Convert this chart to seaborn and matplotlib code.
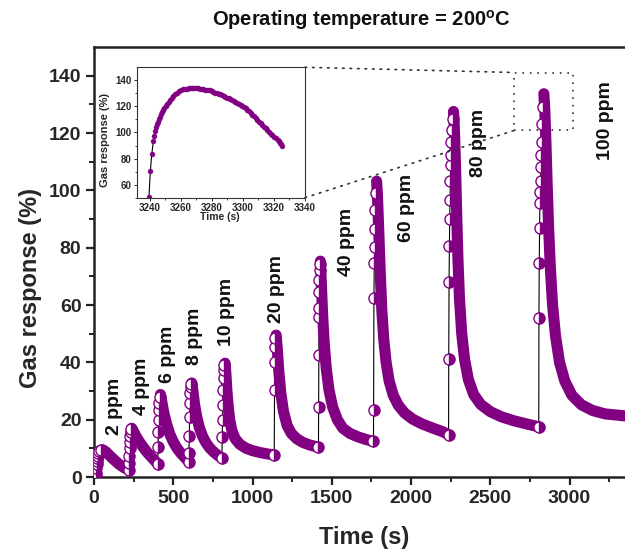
import matplotlib
matplotlib.use("Agg")
import matplotlib.pyplot as plt
import seaborn as sns
import pandas as pd
from matplotlib.patches import Rectangle, ConnectionPatch

# ---------------- data ----------------
CONC_LABELS = ["2 ppm", "4 ppm", "6 ppm", "8 ppm", "10 ppm",
               "20 ppm", "40 ppm", "60 ppm", "80 ppm", "100 ppm"]

# rising part of each pulse (sparse points, time in s / response in %)
RISE_T = [
    [10, 12, 14, 16, 18, 20, 23, 27, 33, 42],
    [219, 221, 223, 225, 227, 229, 231, 234],
    [402, 404, 406, 408, 410, 412, 415],
    [597, 599, 601, 603, 605, 607, 609, 612],
    [807, 809, 811, 813, 815, 817, 820, 823],
    [1137, 1139, 1141, 1143, 1145],
    [1416, 1417, 1418, 1419, 1420, 1421, 1422, 1423, 1425],
    [1763, 1764, 1766, 1768, 1770, 1772, 1775, 1778],
    [2237, 2238, 2240, 2242, 2244, 2246, 2248, 2250, 2252, 2255, 2258, 2262],
    [2806, 2807, 2809, 2811, 2813, 2815, 2817, 2819, 2821, 2824, 2827, 2831],
]
RISE_V = [
    [0.2, 1.5, 3.0, 4.4, 5.6, 6.6, 7.5, 8.3, 8.9, 9.3],
    [2.6, 5.0, 7.5, 10.0, 12.3, 14.2, 15.6, 16.6],
    [4.6, 10.6, 15.6, 19.9, 23.2, 25.8, 27.8],
    [5.4, 8.3, 14.3, 21.0, 25.7, 29.2, 31.3, 32.4],
    [6.6, 14.0, 19.9, 25.1, 30.3, 34.5, 37.5, 39.2],
    [7.7, 30.3, 40.0, 45.5, 48.5],
    [10.4, 24.5, 42.5, 55.9, 58.8, 64.6, 68.6, 72.1, 74.3],
    [12.4, 23.3, 62.5, 74.5, 80.2, 86.4, 93.0, 99.0],
    [14.8, 41.1, 68.0, 80.6, 90.1, 96.8, 103.1, 108.7, 112.5, 117.0, 121.0, 125.0],
    [17.5, 55.3, 74.5, 86.7, 95.7, 99.4, 103.3, 108.2, 112.2, 117.0, 123.0, 129.0],
]
# recovery (decay) part of each pulse, starting at the peak
FALL_T = [
    [55, 75, 95, 115, 135, 155, 175, 195, 218],
    [238, 250, 265, 285, 305, 325, 345, 365, 385, 402],
    [419, 427, 440, 458, 478, 500, 522, 545, 570, 596],
    [617, 624, 634, 648, 665, 685, 708, 732, 758, 782, 806],
    [827, 832, 838, 846, 856, 870, 890, 920, 960, 1000, 1050, 1100, 1136],
    [1149, 1156, 1165, 1178, 1195, 1218, 1245, 1280, 1320, 1365, 1415],
    [1428, 1434, 1442, 1452, 1465, 1482, 1505, 1535, 1570, 1615, 1665, 1715, 1762],
    [1783, 1789, 1797, 1806, 1816, 1828, 1843, 1862, 1888, 1920, 1960, 2010, 2070, 2140, 2200, 2236],
    [2268, 2274, 2281, 2288, 2296, 2306, 2320, 2338, 2362, 2395, 2440, 2500, 2570, 2650, 2730, 2805],
    [2838, 2844, 2851, 2859, 2868, 2879, 2893, 2912, 2937, 2970, 3015, 3075, 3145, 3225, 3300, 3350],
]
FALL_V = [
    [9.5, 8.8, 7.7, 6.6, 5.6, 4.6, 3.8, 3.1, 2.6],
    [17.0, 15.8, 14.2, 12.4, 10.8, 9.3, 8.0, 6.8, 5.6, 4.6],
    [28.8, 26.5, 22.5, 18.5, 15.0, 12.3, 10.2, 8.5, 7.0, 5.4],
    [32.8, 30.0, 25.5, 21.0, 17.2, 14.2, 11.8, 10.0, 8.6, 7.5, 6.6],
    [39.7, 36.0, 30.5, 25.0, 20.0, 16.2, 13.4, 11.4, 10.0, 9.2, 8.5, 8.0, 7.7],
    [49.5, 45.0, 37.5, 29.5, 23.0, 18.0, 15.2, 13.3, 12.0, 11.1, 10.4],
    [75.3, 68.0, 57.0, 47.0, 38.0, 30.5, 24.5, 20.0, 17.0, 15.2, 14.0, 13.1, 12.4],
    [103.2, 97.0, 85.0, 71.0, 58.0, 48.0, 40.0, 33.5, 28.5, 25.0, 22.3, 20.2, 18.5, 17.0, 15.8, 14.8],
    [127.5, 121.0, 108.0, 92.0, 76.0, 62.0, 50.0, 41.0, 34.0, 28.8, 25.3, 22.8, 21.0, 19.6, 18.5, 17.5],
    [133.7, 128.0, 117.0, 102.0, 87.0, 73.0, 60.0, 49.0, 40.0, 33.5, 28.5, 25.2, 23.2, 22.0, 21.6, 21.3],
]

# inset: zoom on the 100 ppm peak
INSET_T = [3239.5, 3240.4, 3241.3, 3242.4, 3243.0, 3243.7, 3244.3, 3245.0, 3245.5,
           3246.0, 3246.5, 3247.1, 3247.9, 3248.7, 3249.5, 3250.4, 3251.2, 3252.1,
           3253.1, 3254.1, 3255.1, 3256.2, 3257.5, 3258.8, 3260.2, 3261.6, 3263.0,
           3264.0, 3265.0, 3266.0, 3267.0, 3268.0, 3269.1, 3270.3, 3271.4, 3272.5,
           3273.5, 3274.6, 3275.8, 3277.0, 3278.0, 3279.0, 3280.0, 3281.0, 3282.2,
           3283.3, 3284.4, 3285.5, 3286.6, 3287.6, 3288.7, 3289.8, 3290.9, 3291.9,
           3293.0, 3294.0, 3295.2, 3296.3, 3297.4, 3298.5, 3299.6, 3300.6, 3301.7,
           3302.8, 3303.9, 3304.9, 3306.0, 3307.0, 3308.2, 3309.3, 3310.4, 3311.5,
           3312.6, 3313.6, 3314.7, 3315.8, 3316.9, 3317.9, 3319.0, 3320.0, 3321.2,
           3322.3, 3323.2, 3324.0, 3324.8, 3325.5]
INSET_V = [50.5, 70.5, 83.6, 93.3, 97.5, 101.3, 104.0, 106.4, 108.4,
           110.3, 112.1, 113.8, 115.5, 117.2, 118.8, 120.3, 122.0, 123.6,
           125.2, 126.7, 128.1, 129.5, 130.5, 131.5, 132.4, 133.1, 133.5,
           133.7, 133.9, 134.1, 134.2, 134.2, 134.2, 134.1, 133.9, 133.7,
           133.4, 133.1, 132.9, 132.7, 132.5, 132.3, 131.8, 131.2, 130.6,
           130.0, 129.6, 129.2, 128.7, 128.2, 127.5, 126.8, 126.1, 125.4,
           124.8, 124.2, 123.5, 122.8, 122.0, 121.3, 120.5, 119.7, 118.5,
           117.3, 116.1, 114.9, 113.6, 112.3, 111.0, 109.7, 108.4, 107.0,
           105.7, 104.4, 103.1, 101.8, 100.5, 99.2, 97.9, 96.6, 95.4,
           94.1, 93.2, 92.0, 90.8, 89.7]

# label anchor positions (data coords of main axes)
LABEL_T = [129, 297, 464, 634, 836, 1153, 1591, 1974, 2424, 3226]
LABEL_V = [24.7, 31.7, 42.9, 49.1, 57.5, 65.5, 82.0, 93.7, 116.7, 124.4]

ZOOM_BOX_T = (2652, 3024)
ZOOM_BOX_V = (120.9, 141.1)

PURPLE = "#820082"

# ---------------- tables ----------------
rise_rows, fall_rows, all_rows = [], [], []
for i in range(len(CONC_LABELS)):
    for t, v in zip(RISE_T[i], RISE_V[i]):
        rise_rows.append((t, v, i))
        all_rows.append((t, v, i))
    for t, v in zip(FALL_T[i], FALL_V[i]):
        fall_rows.append((t, v, i))
        all_rows.append((t, v, i))
df_rise = pd.DataFrame(rise_rows, columns=["t", "v", "pulse"])
df_fall = pd.DataFrame(fall_rows, columns=["t", "v", "pulse"])
df_all = pd.DataFrame(all_rows, columns=["t", "v", "pulse"])
df_inset = pd.DataFrame({"t": INSET_T, "v": INSET_V})

# ---------------- style ----------------
sns.set_theme(style="ticks")
plt.rcParams["font.family"] = ["Liberation Sans", "DejaVu Sans"]
plt.rcParams["font.weight"] = "bold"
plt.rcParams["axes.labelweight"] = "bold"
plt.rcParams["mathtext.fontset"] = "custom"
plt.rcParams["mathtext.bf"] = "Liberation Sans:bold"
plt.rcParams["mathtext.rm"] = "Liberation Sans:bold"

fig = plt.figure(figsize=(6.25, 5.51), dpi=100)
ax = fig.add_axes([0.1504, 0.1343, 0.8496, 0.7804])

# thin black connecting line
sns.lineplot(data=df_all, x="t", y="v", color="black", lw=0.8,
             estimator=None, sort=False, ax=ax, legend=False, zorder=2)
# dense recovery band
sns.lineplot(data=df_fall, x="t", y="v", units="pulse", estimator=None, sort=False,
             color=PURPLE, lw=8, ax=ax, legend=False, zorder=3,
             solid_capstyle="round", solid_joinstyle="round")
# half-filled circle markers on the rising edges
sns.lineplot(data=df_rise, x="t", y="v", units="pulse", estimator=None, sort=False,
             color=PURPLE, lw=0, marker="o", markersize=8, fillstyle="right",
             markerfacecolor=PURPLE, markerfacecoloralt="white",
             markeredgecolor=PURPLE, markeredgewidth=1.0,
             ax=ax, legend=False, zorder=4)

ax.set_xlim(0, 3350)
ax.set_ylim(0, 150)
ax.set_xticks(range(0, 3001, 500))
ax.set_xticks(range(250, 3350, 500), minor=True)
ax.set_yticks(range(0, 141, 20))
ax.set_yticks(range(10, 150, 20), minor=True)
ax.tick_params(axis="both", which="major", direction="out", length=6, width=1.6,
               labelsize=14, pad=3, color="#222222")
ax.tick_params(axis="both", which="minor", direction="out", length=3.5, width=1.4,
               color="#222222")
for side in ["left", "bottom", "top"]:
    ax.spines[side].set_linewidth(1.8)
    ax.spines[side].set_color("#222222")
ax.spines["right"].set_visible(False)

ax.set_xlabel("Time (s)", fontsize=17, fontweight="bold")
ax.set_ylabel("Gas response (%)", fontsize=17, fontweight="bold")
ax.xaxis.set_label_coords(0.508, -0.115)
ax.yaxis.set_label_coords(-0.098, 0.44)

for lab, lt, lv in zip(CONC_LABELS, LABEL_T, LABEL_V):
    ax.text(lt, lv, lab, rotation=90, ha="center", va="center",
            fontsize=14, fontweight="bold", color="#111111")

fig.text(0.578, 0.964, "Operating temperature = 200$^{\\mathbf{o}}$C",
         ha="center", va="center", fontsize=14.5, fontweight="bold", color="#111111")

# zoom box and connectors
dot = (0, (1, 3.5))
ax.add_patch(Rectangle((ZOOM_BOX_T[0], ZOOM_BOX_V[0]), ZOOM_BOX_T[1] - ZOOM_BOX_T[0],
                       ZOOM_BOX_V[1] - ZOOM_BOX_V[0], fill=False, ls=dot, lw=1.2,
                       ec="#333333", zorder=1))

# ---------------- inset ----------------
axin = fig.add_axes([0.2197, 0.6412, 0.2683, 0.2367])
sns.lineplot(data=df_inset, x="t", y="v", color="black", lw=0.8, sort=False,
             estimator=None, ax=axin, legend=False, marker="o", markersize=3.4,
             markerfacecolor=PURPLE, markeredgecolor=PURPLE, markeredgewidth=0.5)
axin.set_xlim(3232, 3340)
axin.set_ylim(50, 150)
axin.set_xticks(range(3240, 3341, 20))
axin.set_xticks(range(3250, 3340, 20), minor=True)
axin.set_yticks(range(60, 141, 20))
axin.set_yticks(range(50, 150, 20), minor=True)
axin.tick_params(axis="both", which="major", direction="out", length=2.5, width=0.7,
                 labelsize=7, pad=1.5)
axin.tick_params(axis="both", which="minor", direction="out", length=1.5, width=0.6)
for s in axin.spines.values():
    s.set_linewidth(0.8)
    s.set_color("#333333")
axin.set_xlabel("Time (s)", fontsize=7.5, fontweight="bold")
axin.set_ylabel("Gas response (%)", fontsize=8, fontweight="bold")
axin.xaxis.set_label_coords(0.493, -0.11)
axin.yaxis.set_label_coords(-0.163, 0.44)

for xa, xb in [((1, 1), (ZOOM_BOX_T[0], ZOOM_BOX_V[1])),
               ((1, 0), (ZOOM_BOX_T[0], ZOOM_BOX_V[0]))]:
    cp = ConnectionPatch(xyA=xa, coordsA=axin.transAxes, xyB=xb, coordsB=ax.transData,
                         ls=dot, lw=1.2, color="#333333")
    fig.add_artist(cp)

fig.savefig("out.png", dpi=100)
